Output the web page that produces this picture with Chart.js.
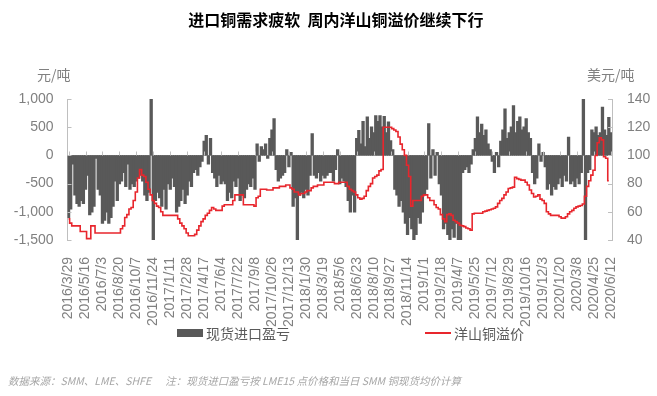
<!DOCTYPE html>
<html>
<head>
<meta charset="utf-8">
<script src="https://cdn.jsdelivr.net/npm/chart.js@4.4.1/dist/chart.umd.min.js"></script>
<style>
  body { margin: 0; background: #fff; }
  #wrap { position: relative; width: 657px; height: 396px; font-family: "Noto Sans CJK SC", sans-serif; }
  #chart { position: absolute; left: 0; top: 0; }
  .abs { position: absolute; white-space: nowrap; line-height: 1; }
  #title { left: 36px; width: 600px; top: 11px; text-align: center; font-size: 16px; font-weight: bold; color: #000; }
  .unit { font-size: 14px; color: #808080; top: 67px; }
  .leg { font-size: 14px; color: #595959; top: 326px; }
  #note { left: 8px; top: 376px; font-size: 10.5px; font-style: italic; color: #a6a6a6; }
</style>
</head>
<body>
<div id="wrap">
  <canvas id="chart" width="657" height="396"></canvas>
  <div id="title" class="abs">进口铜需求疲软&nbsp;&nbsp;周内洋山铜溢价继续下行</div>
  <div class="abs unit" style="left:37px">元/吨</div>
  <div class="abs unit" style="left:587px">美元/吨</div>
  <div class="abs" style="left:177px; top:329px; width:26px; height:8px; background:#595959"></div>
  <div class="abs leg" style="left:206px">现货进口盈亏</div>
  <div class="abs" style="left:425px; top:332px; width:26px; height:2px; background:#e8262d"></div>
  <div class="abs leg" style="left:454px">洋山铜溢价</div>
  <div id="note" class="abs">数据来源：SMM、LME、SHFE&nbsp;&nbsp;&nbsp;&nbsp;&nbsp;&nbsp;注：现货进口盈亏按 LME15 点价格和当日 SMM 铜现货均价计算</div>
</div>
<script>
// x 轴标签（每隔 8 个采样点一个）
const tickLabels = ['2016/3/29','2016/5/16','2016/7/3','2016/8/20','2016/10/7','2016/11/24',
  '2017/1/11','2017/2/28','2017/4/17','2017/6/4','2017/7/22','2017/9/8','2017/10/26','2017/12/13',
  '2018/1/30','2018/3/19','2018/5/6','2018/6/23','2018/8/10','2018/9/27','2018/11/14',
  '2019/1/1','2019/2/18','2019/4/7','2019/5/25','2019/7/12','2019/8/29','2019/10/16','2019/12/3',
  '2020/1/20','2020/3/8','2020/4/25','2020/6/12'];
const perTick = 8;

// 现货进口盈亏（元/吨）
const importProfit = [
  -1100,-950,-150,-700,-850,-900,-800,-850,-600,-350,
  -1050,-1000,-900,-50,-600,-700,-1200,-1150,-1000,-1200,
  -1100,-900,-450,-800,-500,-450,-300,-550,-150,-600,
  -500,-550,-450,-400,-350,-450,-700,-800,-650,1000,
  -1500,-800,-650,-750,-900,-600,-950,-500,-600,-400,
  -550,-1000,-900,-800,-600,-850,-700,-450,-550,-300,
  -250,-350,-200,-100,250,350,-150,300,-300,-400,
  -550,-350,-500,-450,-500,-800,-650,-750,-450,-550,
  -400,-800,-700,-750,-600,-500,-550,-400,-600,200,
  -100,150,100,200,-50,300,450,650,-250,-450,
  -400,-350,-300,100,-200,50,-900,-750,-1500,-700,
  -650,-750,-600,-700,-350,380,-350,-400,-300,-450,
  -350,-400,-350,-300,-300,-450,-250,100,-500,-400,
  -450,-550,-800,-1000,-700,-1000,300,440,200,600,
  150,680,300,500,400,700,600,700,500,690,
  400,590,260,100,-600,-700,-900,-800,-1000,-1200,
  -1400,-1100,-1300,-1500,-1400,-1100,-1200,-1000,-700,-600,
  560,-400,100,-350,50,-500,-700,-1300,-1200,-1400,
  -1500,-1300,-1450,-1200,-1500,-1500,-300,-250,-200,-300,
  -150,100,300,680,400,550,350,450,200,100,
  -100,-300,50,-200,250,450,820,300,400,500,
  880,400,600,680,450,500,650,400,300,-300,
  -500,-400,200,-100,50,-200,-600,-500,-700,-550,
  -600,-500,-400,-550,-350,-450,320,-500,-450,-550,
  -400,-500,-300,1000,-1500,-300,-250,450,400,500,
  350,400,850,450,350,670,400
];

// 洋山铜溢价（美元/吨）
const yangshanPremium = [
  55,52,50,50,50,50,46,46,46,41,
  41,50,50,45,45,45,45,45,45,45,
  45,45,45,45,45,48,50,56,58,62,
  63,68,74,84,90,86,85,81,76,72,
  68,66,64,63,60,57.5,57.5,57.5,57.5,57.5,
  57.5,57.5,55,52,50,48,45,43,43,43,
  44,47,50,53,55,57.5,59,61,63,62,
  61,61,61,64,65,65,65,65,68,72,
  72,72,72,65,65,65,65,65,64,70,
  71,76,76,76,75.5,75.5,75.5,77,77,77,
  78,78,78,79,79,77,76,74,74,72,
  73,73,74,75,75,77,78,78,79,79,
  79,81,81,81,81,81,80,80,81,81,
  81,81,78,76,75,74,72,70,69,69.5,
  71,75,78,80,84,85,86,89,90,120,
  120,120,120,119,118,117,113,108,104,100,
  93,85,64,68,68,68,68,71,72,72,
  70,68,68,65,63,62,58,55,53,58,
  58.5,57.5,54,53,52,50.5,50,49.5,48.5,48,
  47,58.5,59,59,59,59,60,60.5,61,61.5,
  62,62.5,63.5,66,68,69.5,72,74,76.5,77,
  77.5,84.5,83.5,83,82.5,82.5,81,79,75.5,73,
  70.5,71,72,69,68,66,60,58.5,57.5,57.5,
  57.5,57.5,56.5,55.5,55.5,56.5,58.5,60,61,62.5,
  63.5,64,64.5,65.5,71,78,82,86,89.5,100,
  109,112.5,111,99,98,82,null
];

const categories = importProfit.map((_, i) => i % perTick === 0 ? tickLabels[i / perTick] : '');

const axisGrey = '#bfbfbf';
const tickFont = { family: '"Liberation Sans", "Noto Sans CJK SC", sans-serif', size: 14 };

// 坐标轴上的小刻度线（朝内）
const tickMarks = {
  id: 'tickMarks',
  afterDatasetsDraw(chart) {
    const { ctx, scales } = chart;
    const x = scales.x, y = scales.y, y1 = scales.y1;
    ctx.save();
    ctx.strokeStyle = axisGrey;
    ctx.lineWidth = 1;
    ctx.beginPath();
    const y0 = Math.round(y.getPixelForValue(0)) + 0.5;
    for (let i = 0; i < categories.length; i += perTick) {
      const px = Math.round(x.getPixelForValue(i)) + 0.5;
      ctx.moveTo(px, y0);
      ctx.lineTo(px, y0 - 4);
    }
    y.ticks.forEach(t => {
      const py = Math.round(y.getPixelForValue(t.value)) + 0.5;
      ctx.moveTo(y.right, py);
      ctx.lineTo(y.right + 4, py);
    });
    y1.ticks.forEach(t => {
      const py = Math.round(y1.getPixelForValue(t.value)) + 0.5;
      ctx.moveTo(y1.left, py);
      ctx.lineTo(y1.left - 4, py);
    });
    ctx.stroke();
    ctx.restore();
  }
};

new Chart(document.getElementById('chart').getContext('2d'), {
  data: {
    labels: categories,
    datasets: [{
      type: 'line',
      label: '洋山铜溢价',
      data: yangshanPremium,
      yAxisID: 'y1',
      borderColor: '#e8262d',
      borderWidth: 1.6,
      pointRadius: 0,
      stepped: 'middle',
      fill: false
    }, {
      type: 'bar',
      label: '现货进口盈亏',
      data: importProfit,
      yAxisID: 'y',
      backgroundColor: '#595959',
      borderWidth: 0,
      barPercentage: 1,
      categoryPercentage: 1,
      inflateAmount: 0.6
    }]
  },
  options: {
    responsive: false,
    animation: false,
    devicePixelRatio: 1,
    layout: { padding: { top: 99, left: 0, right: 0, bottom: 0 } },
    plugins: { legend: { display: false }, tooltip: { enabled: false } },
    scales: {
      x: {
        grid: { display: false },
        border: { display: false },
        ticks: {
          autoSkip: false, maxRotation: 90, minRotation: 90,
          padding: 9, color: '#808080', font: tickFont
        },
        afterFit: s => { s.height = 156; }
      },
      y: {
        position: 'left',
        min: -1500, max: 1000,
        grid: {
          drawTicks: false,
          color: c => c.tick && c.tick.value === 0 ? axisGrey : 'rgba(0,0,0,0)'
        },
        border: { display: true, color: axisGrey },
        ticks: { stepSize: 500, padding: 14, color: '#808080', font: tickFont },
        afterFit: s => { s.width = 67.5; }
      },
      y1: {
        position: 'right',
        min: 40, max: 140,
        grid: { drawOnChartArea: false, drawTicks: false },
        border: { display: true, color: axisGrey },
        ticks: { stepSize: 20, padding: 15, color: '#808080', font: tickFont },
        afterFit: s => { s.width = 45; }
      }
    }
  },
  plugins: [tickMarks]
});
</script>
</body>
</html>
